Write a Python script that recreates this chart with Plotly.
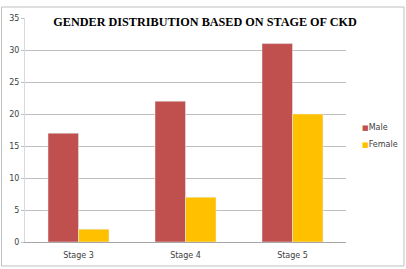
import plotly.graph_objects as go

categories = ["Stage 3", "Stage 4", "Stage 5"]
male = [17, 22, 31]
female = [2, 7, 20]
y_ticks = [0, 5, 10, 15, 20, 25, 30, 35]
series_names = ["Male", "Female"]
colors = ["#C0504D", "#FFC000"]

W, H = 406, 269
L, R, T, B = 25, 60, 18, 27
pw, ph = W - L - R, H - T - B

fig = go.Figure()
for name, vals, col in zip(series_names, [male, female], colors):
    fig.add_trace(go.Bar(name=name, x=categories, y=vals, marker_color=col,
                         showlegend=False))

def px_x(p):
    return (p - L) / pw

def px_y(p):
    return (H - B - p) / ph

legend_rows = [127, 144]
annotations = []
for name, col, yp in zip(series_names, colors, legend_rows):
    annotations.append(dict(
        xref="paper", yref="paper", x=px_x(360), y=px_y(yp),
        xanchor="left", yanchor="middle", showarrow=False,
        text=f"<span style='color:{col};font-size:7px'>■</span>{name}",
        font=dict(family="DejaVu Sans", size=8, color="#404040")))

fig.update_layout(
    width=W, height=H,
    margin=dict(l=L, r=R, t=T, b=B, autoexpand=False),
    paper_bgcolor="white", plot_bgcolor="white",
    barmode="group", bargap=0.43, bargroupgap=0,
    showlegend=False,
    font=dict(family="DejaVu Sans", size=8, color="#404040"),
    title=dict(text="<b>GENDER DISTRIBUTION BASED ON STAGE OF CKD</b>",
               font=dict(family="Liberation Serif", size=12.2, color="black"),
               x=0.505, xanchor="center", y=1 - 22 / H, yanchor="middle"),
    annotations=annotations,
    xaxis=dict(showline=True, linecolor="#A6A6A6", linewidth=1, ticks="",
               showgrid=False, tickfont=dict(size=8), ticklabelstandoff=5),
    yaxis=dict(range=[0, 35], tickvals=y_ticks, showgrid=True, gridcolor="#BFBFBF",
               gridwidth=1, showline=True, linecolor="#D9D9D9", linewidth=1,
               ticks="outside", ticklen=3, tickcolor="#BFBFBF", zeroline=False,
               tickfont=dict(size=8)),
    shapes=[dict(type="rect", xref="paper", yref="paper",
                 x0=px_x(1.5), x1=px_x(404), y0=px_y(266), y1=px_y(7),
                 line=dict(color="#BFBFBF", width=1), layer="below"),
            dict(type="rect", xref="paper", yref="paper",
                 x0=px_x(52), x1=1.0, y0=px_y(29), y1=px_y(12),
                 fillcolor="white", line=dict(width=0), layer="above")],
)

fig.write_html("out.html")
